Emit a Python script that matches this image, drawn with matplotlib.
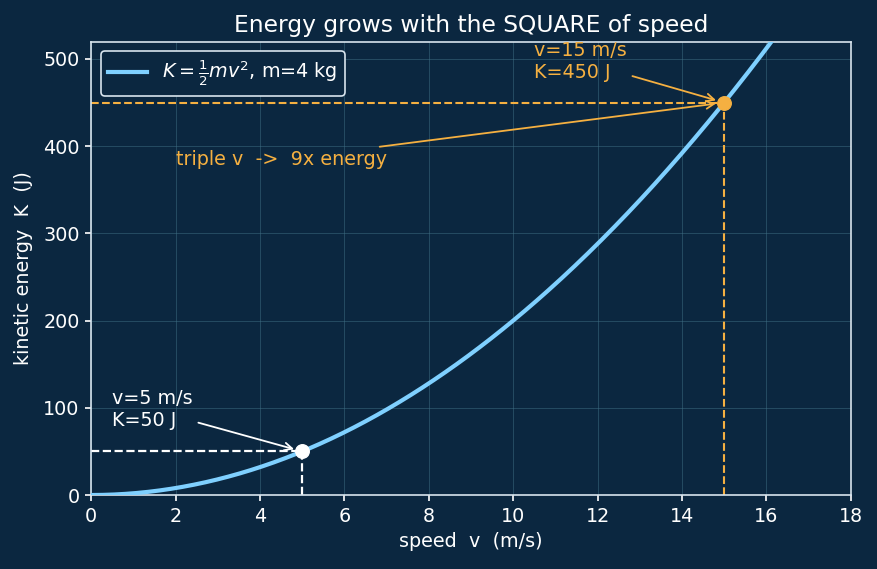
import numpy as np
import matplotlib
matplotlib.use("Agg")
import matplotlib.pyplot as plt

mass = 4
v_max = 18
v_points = [5, 15]
k_points = [50, 450]
xticks = [0, 2, 4, 6, 8, 10, 12, 14, 16, 18]
yticks = [0, 100, 200, 300, 400, 500]

bg = "#0b2740"
curve_c = "#7fd0ff"
orange = "#f5b041"
fg = "white"
fs = 13.8

v = np.linspace(0, v_max, 400)
K = 0.5 * mass * v ** 2

fig = plt.figure(figsize=(8.77, 5.69), dpi=100, facecolor=bg)
ax = fig.add_axes([0.104, 0.13, 0.866, 0.797], facecolor=bg)

ax.plot(v, K, color=curve_c, lw=3.0, label=r"$K=\frac{1}{2}mv^2$, m=4 kg", zorder=3)

# low point
ax.plot([0, v_points[0]], [k_points[0], k_points[0]], ls="--", color=fg, lw=1.6, zorder=2)
ax.plot([v_points[0], v_points[0]], [0, k_points[0]], ls="--", color=fg, lw=1.6, zorder=2)
ax.scatter([v_points[0]], [k_points[0]], s=95, color=fg, zorder=5)
ax.annotate("v=5 m/s\nK=50 J", xy=(v_points[0], k_points[0]), xytext=(0.5, 74),
            color=fg, fontsize=fs, ha="left", va="bottom",
            arrowprops=dict(arrowstyle="->", color=fg, lw=1.3, shrinkB=6))

# high point
ax.plot([0, v_points[1]], [k_points[1], k_points[1]], ls="--", color=orange, lw=1.5, zorder=2)
ax.plot([v_points[1], v_points[1]], [0, k_points[1]], ls="--", color=orange, lw=1.5, zorder=2)
ax.scatter([v_points[1]], [k_points[1]], s=95, color=orange, zorder=5)
ax.annotate("v=15 m/s\nK=450 J", xy=(v_points[1], k_points[1]), xytext=(10.5, 474),
            color=orange, fontsize=fs, ha="left", va="bottom",
            arrowprops=dict(arrowstyle="->", color=orange, lw=1.3, shrinkB=6))
ax.annotate("triple v  ->  9x energy", xy=(v_points[1], k_points[1]), xytext=(2, 374),
            color=orange, fontsize=fs, ha="left", va="bottom",
            arrowprops=dict(arrowstyle="->", color=orange, lw=1.3, shrinkB=6))

ax.set_xlim(0, 18)
ax.set_ylim(0, 520)
ax.set_xticks(xticks)
ax.set_yticks(yticks)
ax.grid(True, color="#3f7086", alpha=0.5, lw=0.7)
ax.set_axisbelow(True)
for s in ax.spines.values():
    s.set_color("#d8e4ee")
    s.set_linewidth(1.2)
ax.tick_params(colors=fg, labelsize=fs, length=4.2, width=1.2, pad=4.2)
ax.set_xlabel("speed  v  (m/s)", color=fg, fontsize=fs, labelpad=4.8)
ax.set_ylabel("kinetic energy  K  (J)", color=fg, fontsize=fs, labelpad=7)
ax.set_title("Energy grows with the SQUARE of speed", color=fg, fontsize=16.8, pad=7.2)

leg = ax.legend(loc="upper left", fontsize=fs, facecolor=bg, edgecolor="#d8e4ee",
                labelcolor=fg, framealpha=1)
leg.get_frame().set_linewidth(1.2)

fig.savefig("out.png", dpi=100, facecolor=bg)
